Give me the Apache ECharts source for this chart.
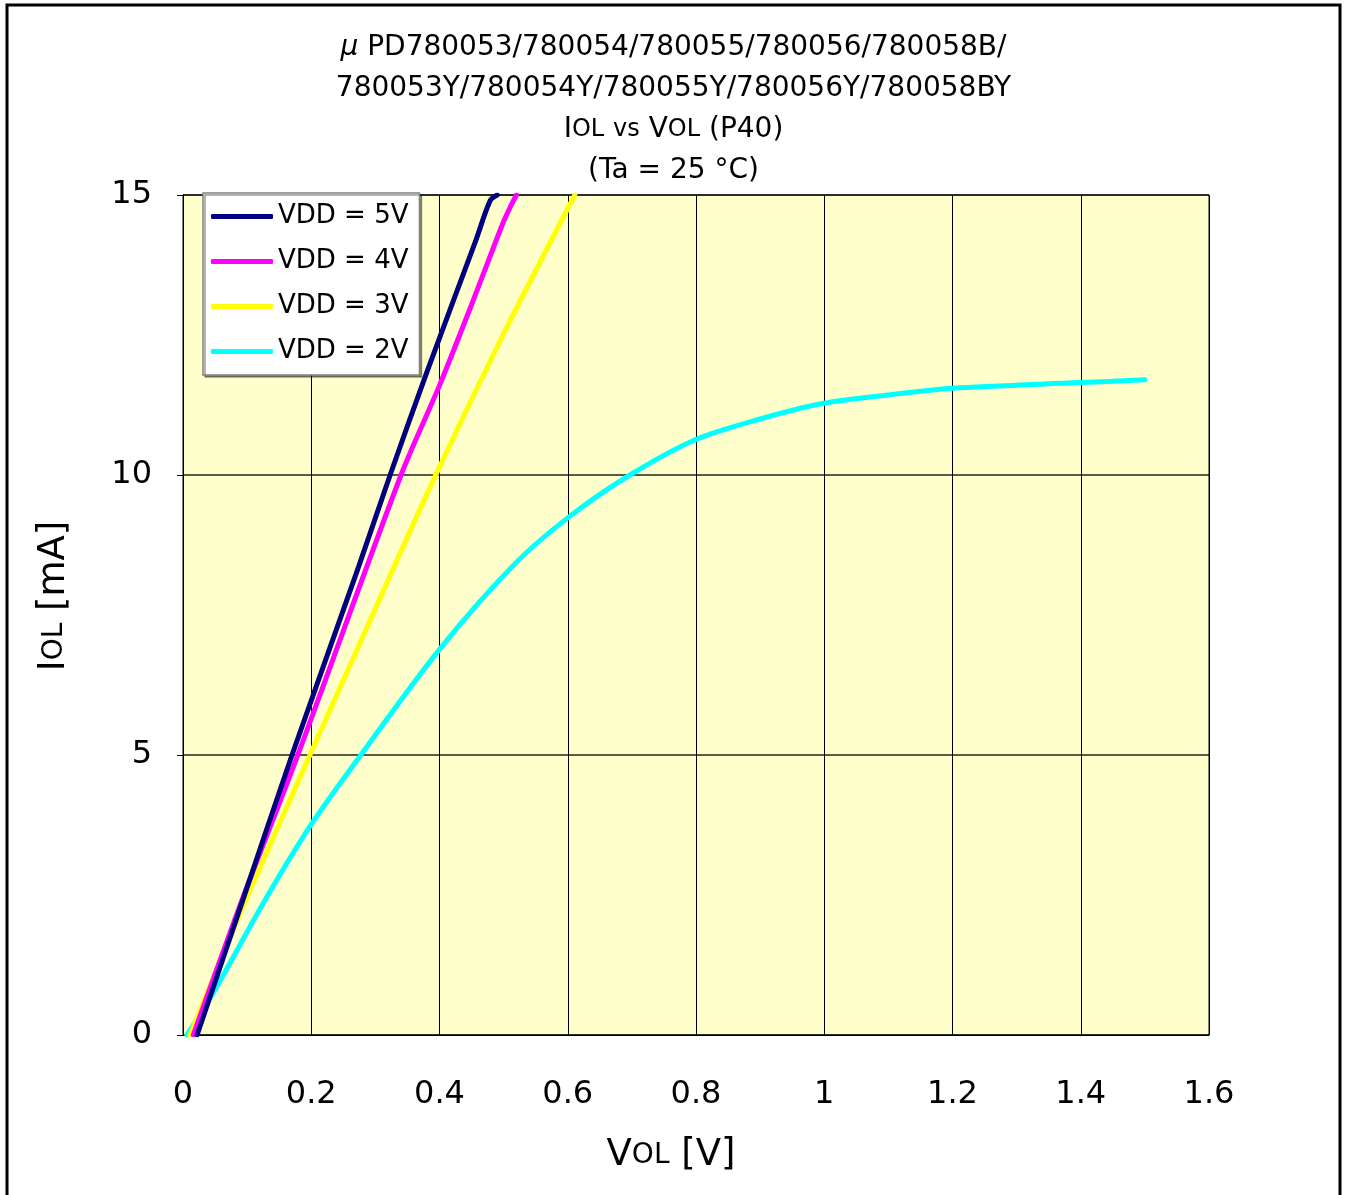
<!DOCTYPE html>
<html>
<head>
<meta charset="utf-8">
<script src="https://cdn.jsdelivr.net/npm/echarts@6/dist/echarts.min.js"></script>
<style>
html,body{margin:0;padding:0;background:#fff;}
#c{width:1347px;height:1195px;}
</style>
</head>
<body>
<div id="c"></div>
<script>
const seriesNames = ['VDD = 5V', 'VDD = 4V', 'VDD = 3V', 'VDD = 2V'];
const xTicks = [0, 0.2, 0.4, 0.6, 0.8, 1, 1.2, 1.4, 1.6];
const yTicks = [0, 5, 10, 15];
const vdd5V = [[0.022,0],[0.093,2.4],[0.17,5],[0.272,8.3],[0.323,10],[0.381,11.86],[0.457,14.2],[0.479,14.9],[0.49,15]];
const vdd4V = [[0.016,0],[0.092,2.41],[0.179,5],[0.34,10],[0.40,11.6],[0.452,13.1],[0.499,14.5],[0.511,14.8],[0.52,15]];
const vdd3V = [[0.011,0],[0.098,2.41],[0.198,5],[0.276,7.0],[0.39,9.9],[0.499,12.5],[0.611,15]];
const vdd2V = [[0.006,0],[0.047,0.75],[0.128,2.41],[0.2,3.76],[0.276,4.98],[0.401,6.9],[0.52,8.44],[0.604,9.27],[0.697,10.0],[0.799,10.63],[0.9,11.0],[0.999,11.28],[1.1,11.43],[1.199,11.55],[1.399,11.65],[1.5,11.7]];
const colors = ['#000080', '#FF00FF', '#FFFF00', '#00FFFF'];
const dataSets = [vdd5V, vdd4V, vdd3V, vdd2V];

const FONT = '"DejaVu Sans", "Noto Sans", sans-serif';
const chart = echarts.init(document.getElementById('c'), null, {renderer: 'canvas'});
chart.setOption({
  backgroundColor: '#ffffff',
  animation: false,
  textStyle: {fontFamily: FONT},
  title: {
    text: '{mu|μ} PD780053/780054/780055/780056/780058B/\n780053Y/780054Y/780055Y/780056Y/780058BY\nI{s|OL} {s|vs} V{s|OL} (P40)\n(Ta = 25 °C)',
    left: 'center',
    top: 22,
    textStyle: {
      fontFamily: FONT,
      fontSize: 28,
      fontWeight: 'normal',
      color: '#000',
      lineHeight: 41,
      rich: {
        mu: {fontSize: 28, fontStyle: 'italic', lineHeight: 41, fontFamily: FONT},
        s: {fontSize: 24, lineHeight: 41, fontFamily: FONT}
      }
    }
  },
  grid: {left: 183, right: 138, top: 195, bottom: 160, show: true, backgroundColor: '#FFFFCC', borderColor: '#000', borderWidth: 1},
  legend: {
    orient: 'vertical',
    left: 203,
    top: 193,
    backgroundColor: '#ffffff',
    borderColor: '#808080',
    borderWidth: 1.5,
    padding: [8, 11, 8, 8],
    itemGap: 14,
    itemWidth: 62,
    itemHeight: 5,
    icon: 'roundRect',
    textStyle: {fontFamily: FONT, fontSize: 26, color: '#000', lineHeight: 31, padding: [0,0,0,0]},
    data: seriesNames,
    shadowColor: 'rgba(0,0,0,0.4)',
    shadowOffsetX: 2,
    shadowOffsetY: 2
  },
  xAxis: {
    type: 'value',
    min: 0, max: 1.6, interval: 0.2,
    axisLine: {lineStyle: {color: '#000', width: 1}},
    axisTick: {show: true, inside: true, length: 6, lineStyle: {color: '#000'}},
    axisLabel: {fontFamily: FONT, fontSize: 32, color: '#000', margin: 44, formatter: v => String(xTicks.find(t => Math.abs(t - v) < 1e-9) ?? v)},
    splitLine: {show: true, lineStyle: {color: '#000', width: 1}},
    name: 'V{s|OL} [V]',
    nameLocation: 'middle',
    nameGap: 102,
    nameTextStyle: {fontFamily: FONT, fontSize: 37, color: '#000', padding: [0, 50, 0, 0], rich: {s: {fontSize: 28, fontFamily: FONT, color: '#000'}}}
  },
  yAxis: {
    type: 'value',
    min: 0, max: 15, interval: 5,
    axisLine: {show: true, lineStyle: {color: '#000', width: 1}},
    axisTick: {show: true, inside: false, length: 6, lineStyle: {color: '#000'}},
    axisLabel: {fontFamily: FONT, fontSize: 32, color: '#000', margin: 31, formatter: v => String(yTicks.find(t => t === v) ?? v)},
    splitLine: {show: true, lineStyle: {color: 'rgba(0,0,0,0.65)', width: 2}},
    name: 'I{s|OL} [mA]',
    nameLocation: 'middle',
    nameRotate: 90,
    nameGap: 110,
    nameTextStyle: {fontFamily: FONT, fontSize: 37, color: '#000', padding: [0, 0, 0, 38], rich: {s: {fontSize: 28, fontFamily: FONT, color: '#000'}}}
  },
  series: seriesNames.map((n, i) => ({
    name: n,
    type: 'line',
    data: dataSets[i],
    smooth: 0.3,
    showSymbol: false,
    symbol: 'none',
    lineStyle: {color: colors[i], width: 5, cap: 'round', join: 'round'},
    itemStyle: {color: colors[i]},
    z: 10 - i
  })),
  graphic: [{
    type: 'rect',
    shape: {x: 7, y: 5, width: 1333, height: 1200},
    style: {fill: 'none', stroke: '#000', lineWidth: 3},
    silent: true,
    z: 100
  }]
});
</script>
</body>
</html>
